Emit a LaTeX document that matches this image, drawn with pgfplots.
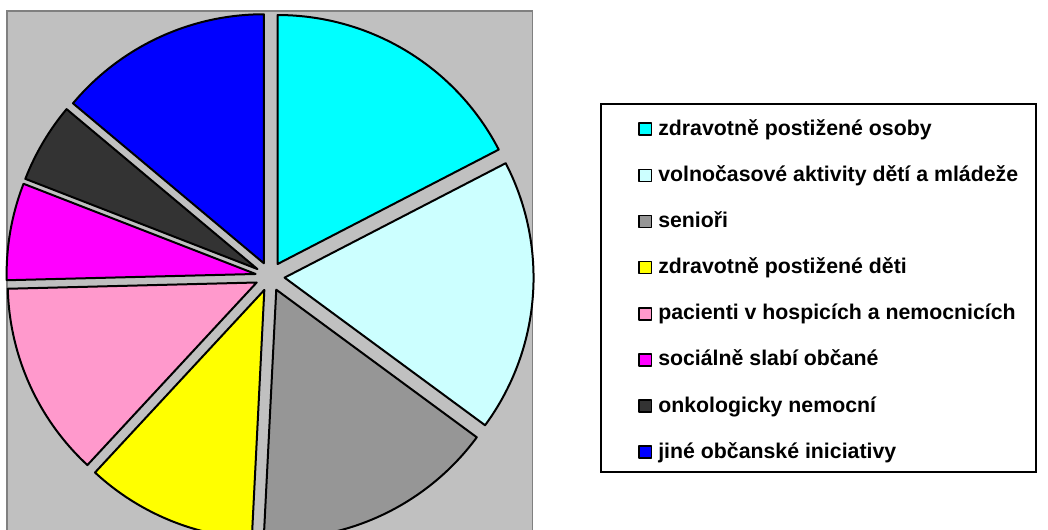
\documentclass[border=0pt]{standalone}
\usepackage{pgfplots}
\pgfplotsset{compat=1.18}
\usepackage{fontspec}
\setmainfont{Liberation Sans}
\definecolor{bgc}{HTML}{C0C0C0}
\definecolor{bordc}{HTML}{808080}
\definecolor{cA}{HTML}{00FFFF}
\definecolor{cB}{HTML}{CCFFFF}
\definecolor{cC}{HTML}{969696}
\definecolor{cD}{HTML}{FFFF00}
\definecolor{cE}{HTML}{FF99CC}
\definecolor{cF}{HTML}{FF00FF}
\definecolor{cG}{HTML}{333333}
\definecolor{cH}{HTML}{0000FF}
% pie geometry in pixel units
\def\pcx{270}\def\pcy{253.5}\def\pieR{249}\def\pexp{14.6}
\def\cum{0}
\pgfplotsset{pieslice/.style={draw=black, line width=2bp, line join=round,
  variable=\t, samples at={-1,0,...,72}}}
\newcommand\slice[3]{%
 \pgfmathsetmacro\sA{\cum}%
 \pgfmathsetmacro\sB{\cum+#2}%
 \xdef\cum{\sB}%
 \pgfmathsetmacro\mA{90-1.8*(\sA+\sB)}%
 \pgfmathsetmacro\aA{90-3.6*\sB}%
 \pgfmathsetmacro\aW{3.6*(#2)/72}%
 \edef\tmp{\noexpand\addplot[pieslice, fill=#1]
   ({(\noexpand\t<0) ? (\pcx+\pexp*cos(\mA)) : (\pcx+\pexp*cos(\mA)+\pieR*cos(\aA+\noexpand\t*\aW))},
    {(\noexpand\t<0) ? (\pcy+\pexp*sin(\mA)) : (\pcy+\pexp*sin(\mA)+\pieR*sin(\aA+\noexpand\t*\aW))}) -- cycle;}%
 \tmp
 \addlegendentry{#3}}
\begin{document}
\begin{tikzpicture}
\begin{axis}[
  width=1048bp, height=530bp, scale only axis,
  xmin=0, xmax=1048, ymin=0, ymax=530,
  axis line style={draw=none}, ticks=none, clip=true,
  legend style={at={(0.5725,0.8057)}, anchor=north west, draw=black, line width=2bp,
    fill=white, inner xsep=18bp, inner ysep=6bp, row sep=13.14bp,
    font=\fontsize{21.3bp}{25bp}\selectfont\bfseries,
    cells={anchor=base west},
    nodes={inner sep=0pt, text height=25.3bp, text depth=7.7bp},
    /tikz/every odd column/.style={column sep=6bp}},
  legend image code/.code={\path (0bp,0bp); \draw[line width=1.6bp] (19bp,0bp) rectangle (31.5bp,12bp);},
]
\addplot[forget plot, fill=bgc, draw=bordc, line width=1.2bp] coordinates {(7,0) (7,519) (532.5,519) (532.5,0)};
\slice{cA}{17.4}{zdravotně postižené osoby}
\slice{cB}{17.7}{volnočasové aktivity dětí a mládeže}
\slice{cC}{15.7}{senioři}
\slice{cD}{11.1}{zdravotně postižené děti}
\slice{cE}{12.7}{pacienti v hospicích a nemocnicích}
\slice{cF}{6.3}{sociálně slabí občané}
\slice{cG}{5.2}{onkologicky nemocní}
\slice{cH}{13.9}{jiné občanské iniciativy}
\end{axis}
\end{tikzpicture}
\end{document}
